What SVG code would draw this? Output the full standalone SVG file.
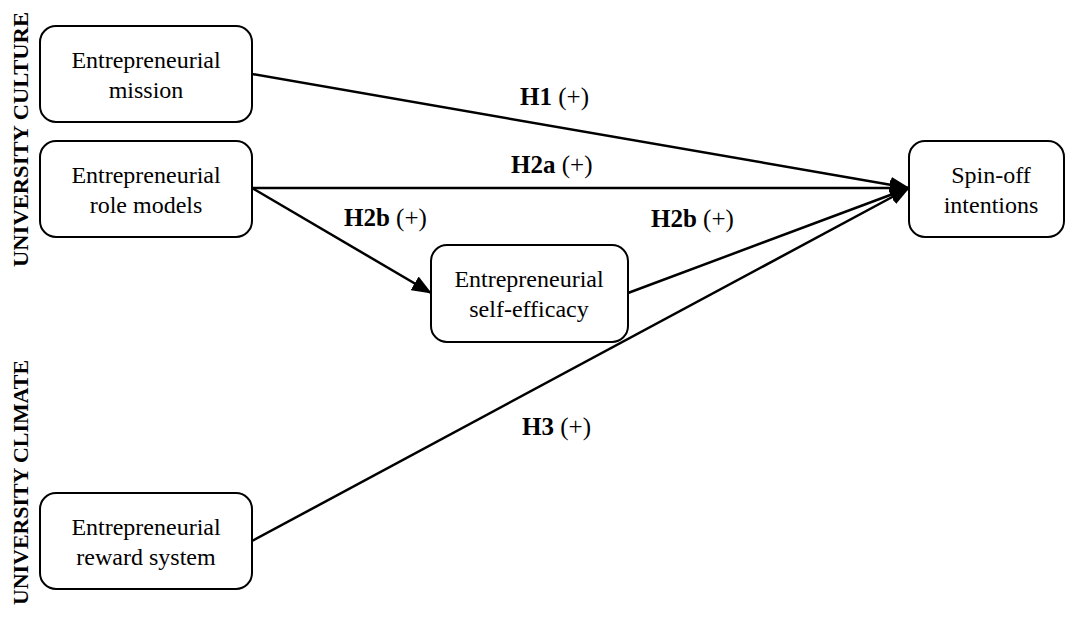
<svg xmlns="http://www.w3.org/2000/svg" width="1068" height="617" viewBox="0 0 1068 617">
<style>
.box{fill:#fff;stroke:#000;stroke-width:2}
.t{font-family:"Liberation Serif","Times New Roman",serif;font-size:24px;fill:#000;text-anchor:middle}
.lbl{font-family:"Liberation Serif","Times New Roman",serif;font-size:25px;fill:#000}
.b{font-weight:bold}
.side{font-family:"Liberation Serif","Times New Roman",serif;font-size:22px;font-weight:bold;fill:#000}
.c{stroke:#000;stroke-width:2.5;fill:none}
</style>
<defs>
<marker id="ah" markerWidth="10" markerHeight="8" refX="9.5" refY="4" orient="auto" markerUnits="userSpaceOnUse" viewBox="0 0 10 8">
<path d="M0,0 L10,4 L0,8 Z" fill="#000"/>
</marker>
<marker id="ah2" markerWidth="20" markerHeight="16" refX="19" refY="8" orient="auto" markerUnits="userSpaceOnUse" viewBox="0 0 20 16">
<path d="M0,0 L20,8 L0,16 Z" fill="#000"/>
</marker>
</defs>
<text class="side" transform="translate(28,267) rotate(-90)" textLength="255" lengthAdjust="spacingAndGlyphs">UNIVERSITY CULTURE</text>
<text class="side" transform="translate(28,605) rotate(-90)" textLength="245" lengthAdjust="spacingAndGlyphs">UNIVERSITY CLIMATE</text>
<g id="connectors">
<line class="c" x1="252" y1="74" x2="909" y2="188" marker-end="url(#ah2)"/>
<line class="c" x1="252" y1="188" x2="909" y2="188" marker-end="url(#ah2)"/>
<line class="c" x1="252" y1="188" x2="431" y2="293" marker-end="url(#ah2)"/>
<line class="c" x1="628" y1="293" x2="909" y2="188" marker-end="url(#ah2)"/>
<line class="c" x1="252" y1="541" x2="909" y2="188" marker-end="url(#ah2)"/>
</g>
<g id="labels">
<text class="lbl" x="520" y="105"><tspan class="b">H1</tspan> (+)</text>
<text class="lbl" x="511" y="173"><tspan class="b">H2a</tspan> (+)</text>
<text class="lbl" x="344" y="226"><tspan class="b">H2b</tspan> (+)</text>
<text class="lbl" x="651" y="227"><tspan class="b">H2b</tspan> (+)</text>
<text class="lbl" x="522" y="435"><tspan class="b">H3</tspan> (+)</text>
</g>
<g id="mission">
<rect class="box" x="40" y="26" width="212" height="96" rx="16"/>
<text class="t" x="146" y="68">Entrepreneurial</text>
<text class="t" x="146" y="98">mission</text>
</g>
<g id="rolemodels">
<rect class="box" x="40" y="141" width="212" height="96" rx="16"/>
<text class="t" x="146" y="183">Entrepreneurial</text>
<text class="t" x="146" y="213">role models</text>
</g>
<g id="selfefficacy">
<rect class="box" x="431" y="245" width="197" height="97" rx="16"/>
<text class="t" x="529" y="287">Entrepreneurial</text>
<text class="t" x="529" y="317">self-efficacy</text>
</g>
<g id="spinoff">
<rect class="box" x="909" y="141" width="155" height="96" rx="16"/>
<text class="t" x="991" y="183">Spin-off</text>
<text class="t" x="991" y="213">intentions</text>
</g>
<g id="reward">
<rect class="box" x="40" y="493" width="212" height="96" rx="16"/>
<text class="t" x="146" y="535">Entrepreneurial</text>
<text class="t" x="146" y="565">reward system</text>
</g>
</svg>
